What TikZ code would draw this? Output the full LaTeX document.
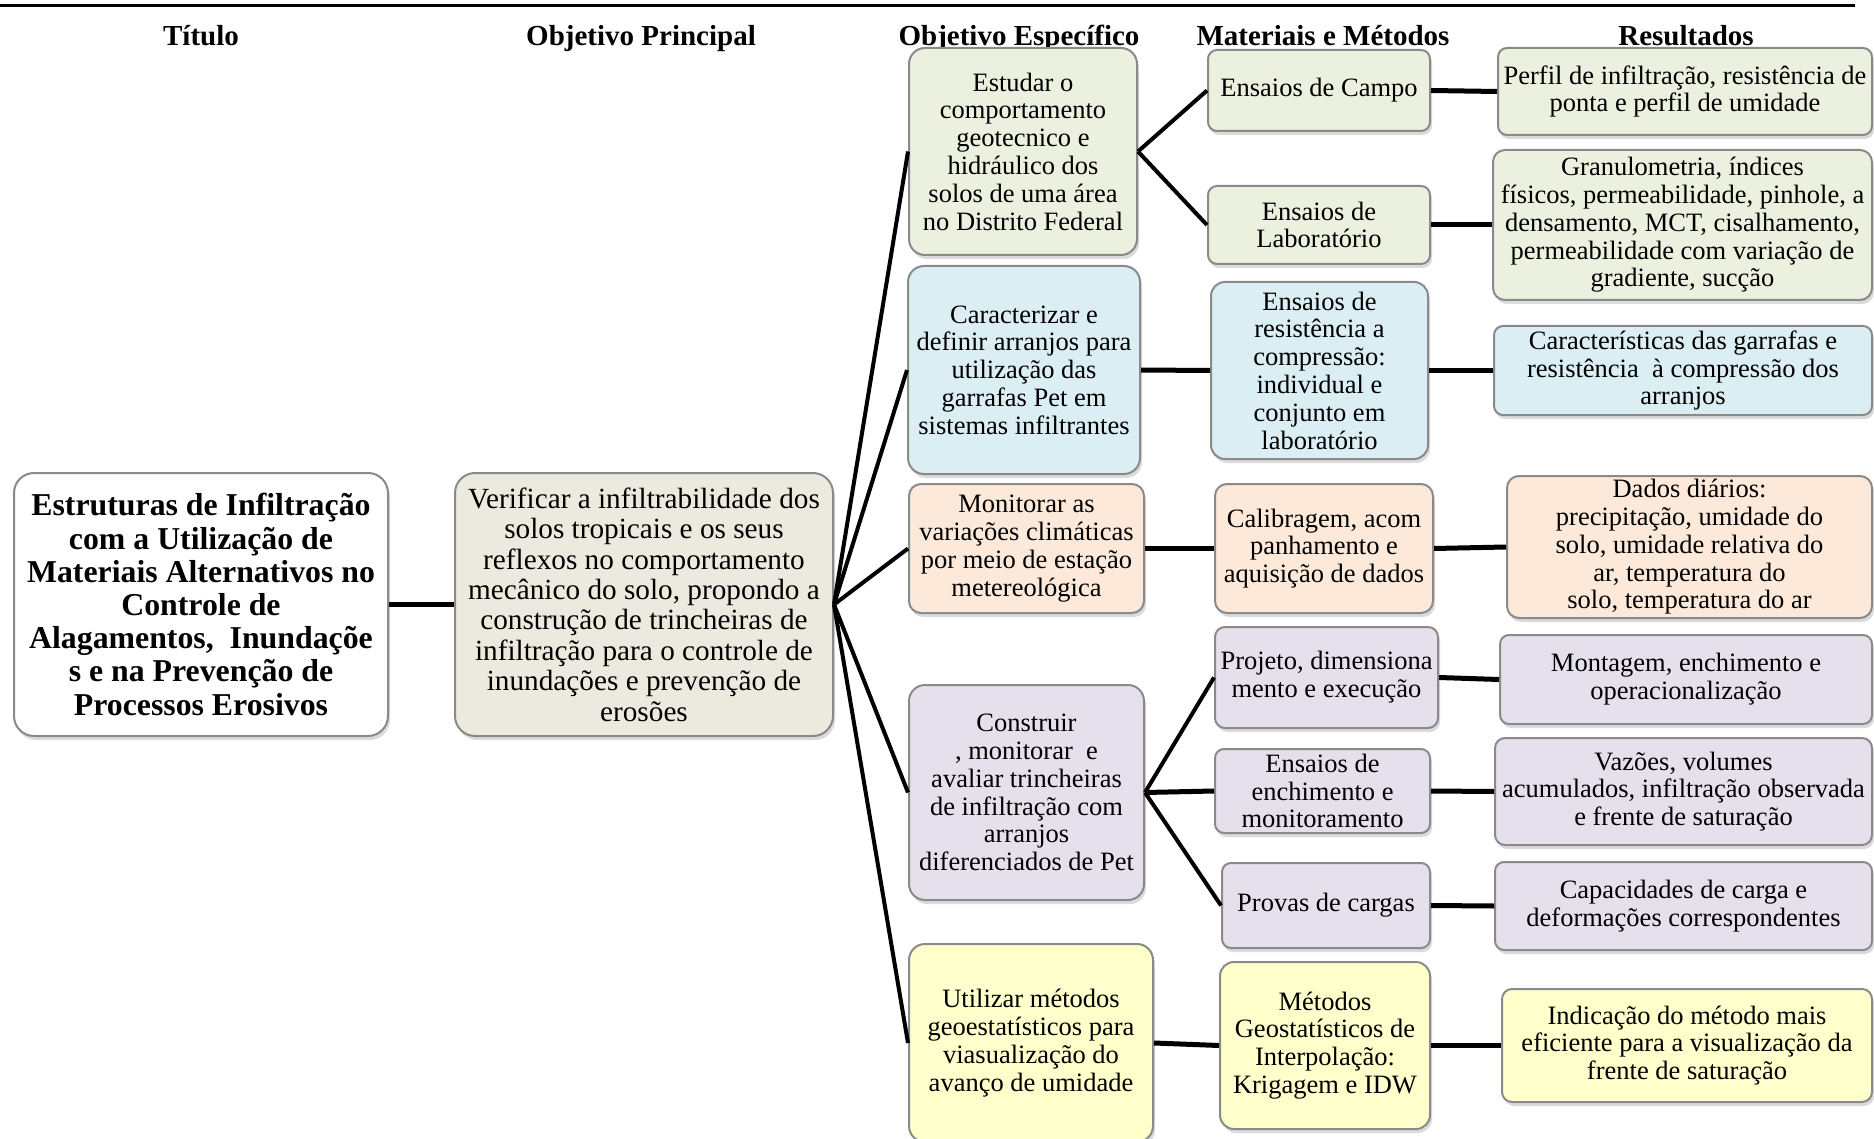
\documentclass[tikz,border=0pt]{standalone}
\usepackage{fontspec}
\setmainfont{Liberation Serif}
\usetikzlibrary{shadows}

\definecolor{boxline}{RGB}{138,138,138}
\definecolor{fillmain}{RGB}{236,234,223}
\definecolor{fillgreen}{RGB}{235,241,222}
\definecolor{fillblue}{RGB}{219,238,244}
\definecolor{fillorange}{RGB}{253,233,217}
\definecolor{fillpurple}{RGB}{229,224,236}
\definecolor{fillyellow}{RGB}{255,255,204}

\tikzset{
  box/.style={draw=boxline, line width=2pt, rounded corners=#1, align=center,
    inner sep=0pt,
    drop shadow={shadow xshift=2pt, shadow yshift=-4pt, opacity=0.28}},
  box/.default=10pt,
  sz/.style 2 args={minimum width=#1pt, minimum height=#2pt},
  smalltext/.style={font=\fontsize{26.5}{27.8}\selectfont},
  maintext/.style={font=\fontsize{29.25}{30.4}\selectfont},
  titletext/.style={font=\bfseries\fontsize{31.8}{33.2}\selectfont},
  headtext/.style={font=\bfseries\fontsize{29}{30}\selectfont, anchor=base},
  fan/.style={line width=4pt},
  link/.style={line width=5pt},
}

\begin{document}
\begin{tikzpicture}[x=1pt, y=-1pt]
\fill[white] (0,0) rectangle (1874,1139);
\useasboundingbox (0,0) rectangle (1874,1139);

% top rule
\draw[line width=2.2pt] (0,5.5) -- (1855,5.5);

% column headings
\node[headtext] (h1) at (201,45.5) {Título};
\node[headtext] (h2) at (641,45.5) {Objetivo Principal};
\node[headtext] (h3) at (1019,45.5) {Objetivo Específico};
\node[headtext] (h4) at (1323,45.5) {Materiais e Métodos};
\node[headtext] (h5) at (1686,45.5) {Resultados};

% title and main objective
\node[box=20pt, fill=white, sz={374}{263}, titletext] (tit) at (201,604.5)
  {Estruturas de Infiltração\\com a Utilização de\\Materiais Alternativos no\\Controle de\\Alagamentos,\ \ Inundaçõe\\s e na Prevenção de\\Processos Erosivos};
\node[box=20pt, fill=fillmain, sz={378}{263}, maintext] (pri) at (644,604.5)
  {Verificar a infiltrabilidade dos\\solos tropicais e os seus\\reflexos no comportamento\\mecânico do solo, propondo a\\construção de trincheiras de\\infiltração para o controle de\\inundações e prevenção de\\erosões};

% specific objectives
\node[box=16pt, fill=fillgreen, sz={228}{207}, smalltext] (b1) at (1023,151.5)
  {Estudar o\\comportamento\\geotecnico e\\hidráulico dos\\solos de uma área\\no Distrito Federal};
\node[box=16pt, fill=fillblue, sz={232}{208}, smalltext] (b2) at (1024,370)
  {Caracterizar e\\definir arranjos para\\utilização das\\garrafas Pet em\\sistemas infiltrantes};
\node[box=12pt, fill=fillorange, sz={235}{129}, smalltext] (b3) at (1026.5,548.5)
  {Monitorar as\\variações climáticas\\por meio de estação\\metereológica};
\node[box=16pt, fill=fillpurple, sz={235}{215}, smalltext] (b4) at (1026.5,792.5)
  {Construir\\, monitorar\ \ e\\avaliar trincheiras\\de infiltração com\\arranjos\\diferenciados de Pet};
\node[box=16pt, fill=fillyellow, sz={244}{198}, smalltext] (b5) at (1031,1043)
  {Utilizar métodos\\geoestatísticos para\\viasualização do\\avanço de umidade};

% materials and methods
\node[box=9pt, fill=fillgreen, sz={222}{81}, smalltext] (campo) at (1319,90.5)
  {Ensaios de Campo};
\node[box=9pt, fill=fillgreen, sz={222}{78}, smalltext] (lab) at (1319,225)
  {Ensaios de\\Laboratório};
\node[box=14pt, fill=fillblue, sz={217}{177}, smalltext] (res) at (1319.5,370.5)
  {Ensaios de\\resistência a\\compressão:\\individual e\\conjunto em\\laboratório};
\node[box=12pt, fill=fillorange, sz={218}{129}, smalltext] (cal) at (1324,548.5)
  {Calibragem, acom\\panhamento e\\aquisição de dados};
\node[box=10pt, fill=fillpurple, sz={223}{101}, smalltext] (proj) at (1326.5,677.5)
  {Projeto, dimensiona\\mento e execução};
\node[box=9pt, fill=fillpurple, sz={215}{84}, smalltext] (ench) at (1322.5,791)
  {Ensaios de\\enchimento e\\monitoramento};
\node[box=9pt, fill=fillpurple, sz={208}{85}, smalltext] (prov) at (1326,905.5)
  {Provas de cargas};
\node[box=14pt, fill=fillyellow, sz={210}{167}, smalltext] (met) at (1325,1045.5)
  {Métodos\\Geostatísticos de\\Interpolação:\\Krigagem e IDW};

% results
\node[box=9pt, fill=fillgreen, sz={374}{87}, smalltext] (perf) at (1685,91.5)
  {Perfil de infiltração, resistência de\\ponta e perfil de umidade};
\node[box=12pt, fill=fillgreen, sz={379}{150}, smalltext] (gran) at (1682.5,225)
  {Granulometria, índices\\físicos, permeabilidade, pinhole, a\\densamento, MCT, cisalhamento,\\permeabilidade com variação de\\gradiente, sucção};
\node[box=9pt, fill=fillblue, sz={378}{89}, smalltext] (car) at (1683,370.5)
  {Características das garrafas e\\resistência\ \ à compressão dos\\arranjos};
\node[box=12pt, fill=fillorange, sz={365}{142}, smalltext] (dad) at (1689.5,547)
  {Dados diários:\\precipitação, umidade do\\solo, umidade relativa do\\ar, temperatura do\\solo, temperatura do ar};
\node[box=9pt, fill=fillpurple, sz={372}{89}, smalltext] (mont) at (1686,679.5)
  {Montagem, enchimento e\\operacionalização};
\node[box=10pt, fill=fillpurple, sz={377}{107}, smalltext] (vaz) at (1683.5,791.5)
  {Vazões, volumes\\acumulados, infiltração observada\\e frente de saturação};
\node[box=9pt, fill=fillpurple, sz={377}{88}, smalltext] (cap) at (1683.5,906)
  {Capacidades de carga e\\deformações correspondentes};
\node[box=10pt, fill=fillyellow, sz={370}{113}, smalltext] (ind) at (1687,1045.5)
  {Indicação do método mais\\eficiente para a visualização da\\frente de saturação};

% connectors
\draw[link] (tit.east) -- (pri.west);
\foreach \b in {b1,b2,b3,b4,b5}
  \draw[fan] (pri.east) -- (\b.west);
\draw[fan] (b1.east) -- (campo.west);
\draw[fan] (b1.east) -- (lab.west);
\draw[link] (campo.east) -- (perf.west);
\draw[link] (lab.east) -- (gran.west);
\draw[link] (b2.east) -- (res.west);
\draw[link] (res.east) -- (car.west);
\draw[link] (b3.east) -- (cal.west);
\draw[link] (cal.east) -- (dad.west);
\draw[fan] (b4.east) -- (proj.west);
\draw[link] (b4.east) -- (ench.west);
\draw[fan] (b4.east) -- (prov.west);
\draw[link] (proj.east) -- (mont.west);
\draw[link] (ench.east) -- (vaz.west);
\draw[link] (prov.east) -- (cap.west);
\draw[link] (b5.east) -- (met.west);
\draw[link] (met.east) -- (ind.west);
\end{tikzpicture}
\end{document}
